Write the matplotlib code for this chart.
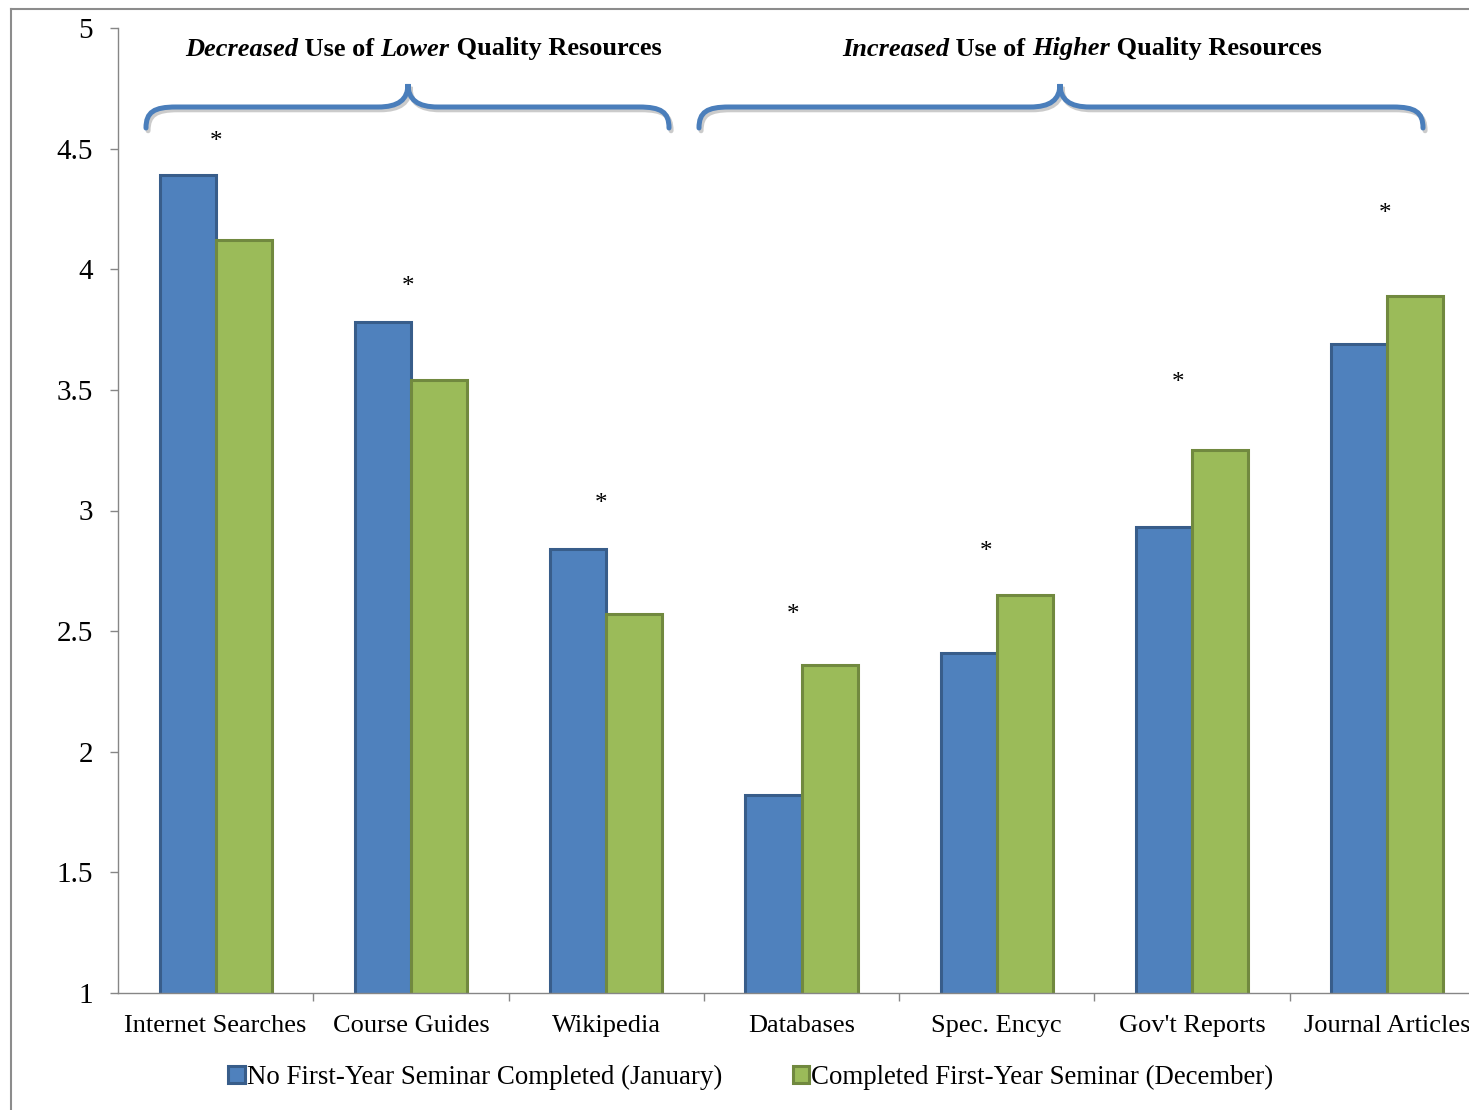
import numpy as np
import matplotlib
matplotlib.use('Agg')
import matplotlib.pyplot as plt
from matplotlib.path import Path
from matplotlib.patches import PathPatch
from matplotlib.lines import Line2D
import matplotlib.patheffects as pe
import matplotlib.transforms as mtransforms

plt.rcParams['font.family'] = ['Liberation Serif', 'DejaVu Serif']

categories = ['Internet Searches', 'Course Guides', 'Wikipedia', 'Databases',
              'Spec. Encyc', "Gov't Reports", 'Journal Articles']
jan = [4.39, 3.78, 2.84, 1.82, 2.41, 2.93, 3.69]
dec = [4.12, 3.54, 2.57, 2.36, 2.65, 3.25, 3.89]
# significance markers
star_x = [0.0, 0.985, 1.973, 2.956, 3.944, 4.928, 5.987]
star_y = [4.55, 3.95, 3.05, 2.59, 2.85, 3.55, 4.25]
yticks = [1, 1.5, 2, 2.5, 3, 3.5, 4, 4.5, 5]
ytick_labels = ['1', '1.5', '2', '2.5', '3', '3.5', '4', '4.5', '5']
lab_jan = 'No First-Year Seminar Completed (January)'
lab_dec = 'Completed First-Year Seminar (December)'

W, H = 1469, 1110
fig = plt.figure(figsize=(W/100, H/100), dpi=100)
ax = fig.add_axes([118/W, 1-993/H, 1367/W, 965/H])

x = np.arange(len(categories))
bw = 0.287
b1 = ax.bar(x - bw/2, jan, bw, bottom=0, color='#4F81BD', edgecolor='#385D8A',
            linewidth=2.2, label=lab_jan)
b2 = ax.bar(x + bw/2, dec, bw, bottom=0, color='#9BBB59', edgecolor='#71893F',
            linewidth=2.2, label=lab_dec)

ax.set_xlim(-0.5, len(categories) - 0.5)
ax.set_ylim(1, 5)
ax.set_yticks(yticks)
ax.set_yticklabels(ytick_labels)
ax.set_xticks(x)
ax.set_xticklabels(categories)
ax.set_xticks(np.arange(len(categories)) + 0.5, minor=True)
ax.tick_params(axis='x', which='major', length=0, labelsize=19, pad=16)
ax.tick_params(axis='x', which='minor', length=6, color='#868686', width=1)
ax.tick_params(axis='y', length=6, color='#868686', width=1, labelsize=21, pad=12)
for s in ['top', 'right']:
    ax.spines[s].set_visible(False)
for s in ['left', 'bottom']:
    ax.spines[s].set_color('#868686')
    ax.spines[s].set_linewidth(1)

# asterisks (glyph centres at star_y)
off = mtransforms.ScaledTranslation(0, -0.46*18/72, fig.dpi_scale_trans)
for xi, yi in zip(star_x, star_y):
    ax.text(xi, yi, '*', ha='center', va='baseline', fontsize=18,
            transform=ax.transData + off)

# curly braces in pixel coords
def brace(x0, x1, xm, ytop=84, yh=107, ybot=128, r=22):
    pts = [(x0, ybot), (x0, yh + 5), (x0 + 8, yh), (x0 + r + 8, yh),
           (xm - 30, yh), (xm - 10, yh), (xm, yh - 7), (xm, ytop),
           (xm, yh - 7), (xm + 10, yh), (xm + 30, yh),
           (x1 - r - 8, yh), (x1 - 8, yh), (x1, yh + 5), (x1, ybot)]
    codes = [Path.MOVETO, Path.CURVE4, Path.CURVE4, Path.CURVE4,
             Path.LINETO, Path.CURVE4, Path.CURVE4, Path.CURVE4,
             Path.CURVE4, Path.CURVE4, Path.CURVE4,
             Path.LINETO, Path.CURVE4, Path.CURVE4, Path.CURVE4]
    verts = [(px/W, 1 - py/H) for px, py in pts]
    p = PathPatch(Path(verts, codes), transform=fig.transFigure, fill=False,
                  edgecolor='#4A7EBB', linewidth=3.6, capstyle='round',
                  path_effects=[pe.SimpleLineShadow(offset=(1.5, -2), shadow_color='#999999', alpha=0.5),
                                pe.Normal()])
    fig.add_artist(p)

brace(146, 669, 408)
brace(699, 1423, 1060)

# mixed bold / bold-italic headers
renderer = fig.canvas.get_renderer()
def header(pieces, xc, yc, size=19):
    widths = []
    for txt, style in pieces:
        t = fig.text(0, 0, txt, fontsize=size, fontweight='bold', style=style)
        widths.append(t.get_window_extent(renderer).width)
        t.remove()
    xpos = xc - sum(widths)/2
    for (txt, style), w in zip(pieces, widths):
        fig.text(xpos/W, 1 - yc/H, txt, fontsize=size, fontweight='bold',
                 style=style, va='center', ha='left')
        xpos += w

header([('Decreased', 'italic'), (' Use of ', 'normal'), ('Lower', 'italic'),
        (' Quality Resources', 'normal')], 423, 49)
header([('Increased', 'italic'), (' Use of ', 'normal'), ('Higher', 'italic'),
        (' Quality Resources', 'normal')], 1082, 49)

fig.legend(handles=[b1, b2], loc='center', bbox_to_anchor=(751/W, 1 - 1077/H),
           ncol=2, frameon=False, fontsize=19.4, handlelength=0.6, handleheight=0.6,
           handletextpad=0.1, columnspacing=2.6)

# figure border (top and left visible)
fig.add_artist(Line2D([11/W, 11/W], [0, 1 - 9/H], transform=fig.transFigure,
                      color='#8C8C8C', linewidth=1.5))
fig.add_artist(Line2D([11/W, 1], [1 - 9/H, 1 - 9/H], transform=fig.transFigure,
                      color='#8C8C8C', linewidth=1.5))

fig.savefig('out.png', dpi=100)
